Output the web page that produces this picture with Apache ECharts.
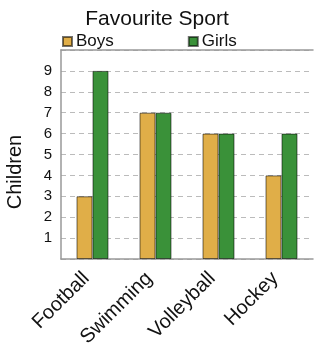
<!DOCTYPE html>
<html>
<head>
<meta charset="utf-8">
<script src="https://cdn.jsdelivr.net/npm/echarts@6/dist/echarts.min.js"></script>
<style>
    html, body { margin: 0; padding: 0; background: #fff; }
    #chart { width: 314px; height: 343px; }
</style>
</head>
<body>
<div id="chart"></div>
<script>
const sports = ["Football", "Swimming", "Volleyball", "Hockey"];
const boys = [3, 7, 6, 4];
const girls = [9, 7, 6, 6];
const seriesNames = ["Boys", "Girls"];
const colors = ["#E0AE48", "#3A9139"];
const yTitle = "Children";

const font = "Liberation Sans, Arial, sans-serif";

const chart = echarts.init(document.getElementById("chart"));

const barStyle = (color) => ({
    color: color,
    borderColor: "rgba(0,0,0,0.55)",
    borderWidth: 1
});

const option = {
    animation: false,
    textStyle: { fontFamily: font },
    title: {
        text: "Favourite Sport",
        left: "center",
        top: 9,
        padding: 0,
        textStyle: { fontFamily: font, fontWeight: "normal", fontSize: 21, color: "#111" }
    },
    legend: {
        data: seriesNames,
        left: 62,
        top: 33,
        padding: 0,
        itemWidth: 9,
        itemHeight: 9,
        itemGap: 74,
        icon: "rect",
        textStyle: { fontFamily: font, fontSize: 17, color: "#111", padding: [0, 0, 0, -1] }
    },
    // y axis title sits centred on the whole chart, not on the plot
    graphic: [
        {
            type: "text",
            x: 15,
            y: 172,
            rotation: Math.PI / 2,
            style: {
                text: yTitle,
                font: "20px " + font,
                fill: "#111",
                align: "center",
                verticalAlign: "middle"
            }
        }
    ],
    grid: {
        left: 61,
        right: 1,
        top: 50,
        bottom: 84,
        containLabel: false,
        outerBoundsMode: "none"
    },
    xAxis: [
        {
            type: "category",
            data: sports,
            axisLine: { lineStyle: { color: "#999", width: 1.5 } },
            axisTick: { show: false },
            axisLabel: {
                rotate: 45,
                interval: 0,
                margin: 10,
                padding: [0, 9, 0, 0],
                fontFamily: font,
                fontSize: 20,
                color: "#111"
            }
        },
        {
            type: "category",
            position: "top",
            data: sports,
            axisLine: { lineStyle: { color: "#999", width: 1.5 } },
            axisTick: { show: false },
            axisLabel: { show: false }
        }
    ],
    yAxis: {
        type: "value",
        min: 0,
        max: 10,
        interval: 1,
        axisLine: { show: true, lineStyle: { color: "#999", width: 1.5 } },
        axisTick: { show: false },
        axisLabel: {
            fontFamily: font,
            fontSize: 15,
            color: "#111",
            margin: 9,
            formatter: (v) => (v === 0 || v === 10 ? "" : String(v))
        },
        splitLine: { lineStyle: { color: "#bbb", type: [5, 4], width: 1 } }
    },
    series: [
        {
            name: seriesNames[0],
            type: "bar",
            data: boys,
            barWidth: 16,
            barGap: "0%",
            itemStyle: barStyle(colors[0])
        },
        {
            name: seriesNames[1],
            type: "bar",
            data: girls,
            barWidth: 16,
            barGap: "0%",
            itemStyle: barStyle(colors[1])
        }
    ]
};

chart.setOption(option);
</script>
</body>
</html>
